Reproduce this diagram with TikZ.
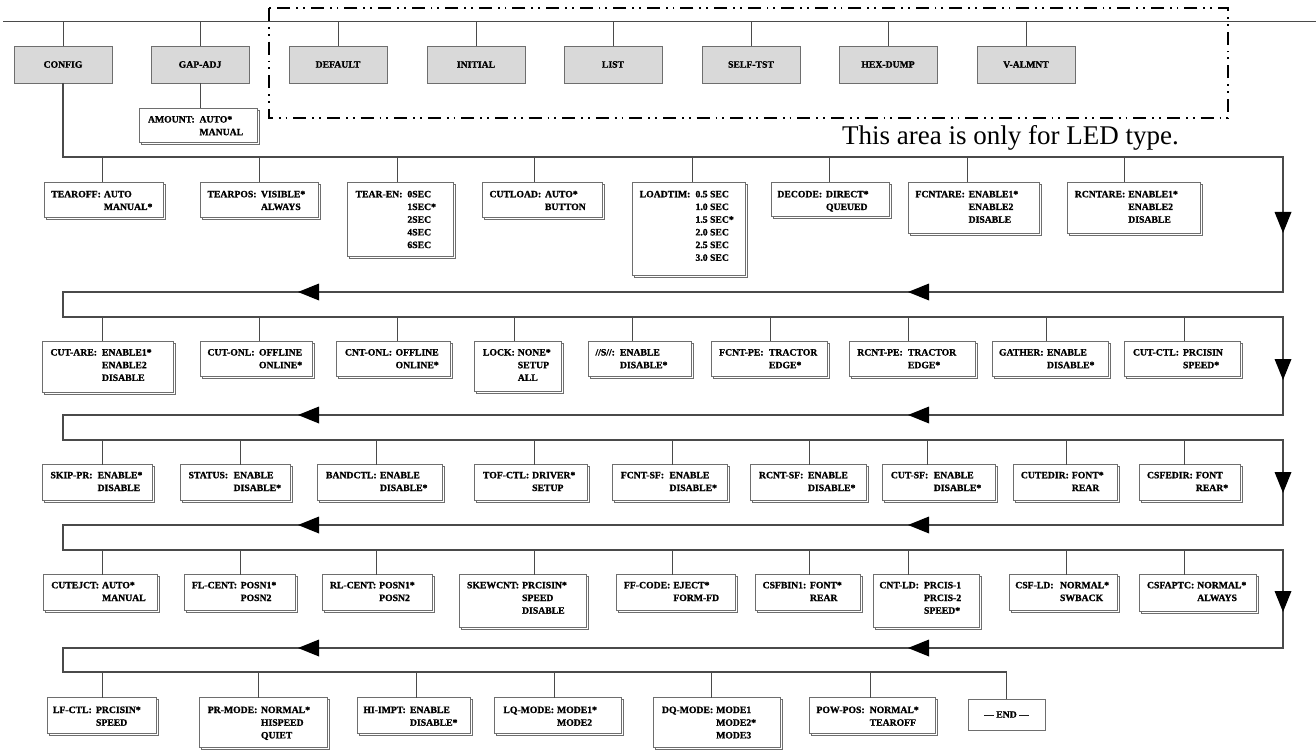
\documentclass[tikz,border=0pt]{standalone}
\usepackage{fontspec}
\setmainfont{Liberation Serif}[BoldFeatures={FakeBold=1.2}]
\usetikzlibrary{calc}
\definecolor{busgray}{HTML}{4A4A4A}
\definecolor{boxgray}{HTML}{6E6E6E}
\definecolor{topfill}{HTML}{D9D9D9}
\newcommand\rowtop{0}
\newcommand\rowbase{0}
\newcommand\rowbus{0}
\newcommand\setrow[3]{\renewcommand\rowtop{#1}\renewcommand\rowbase{#2}\renewcommand\rowbus{#3}}
% name, L, R, B, label x, value x, label, values
\newcommand\menuitem[8]{%
  \draw[shadowbox] ({#2+2},{\rowtop+2}) rectangle ({#3+2},{#4+2});
  \node[itembox, anchor=north west, minimum width={#3-#2}, minimum height={#4-\rowtop}] (#1) at (#2,\rowtop) {};
  \node[itemtext, anchor=base west] (#1-l) at (#5,\rowbase) {#7};
  \path let \p1=(#1-l.east) in node[itemtext, anchor=base west] (#1-v) at ({max(\x1+3,#6)},\rowbase) {\begin{tabular}[t]{@{}l@{}}#8\end{tabular}};
}
\newcommand\conn[2]{\coordinate (#1-b) at (#2,\rowbus); \draw[conn] (#1-b) -- (#1-b |- #1.north);}
\newcommand\larrow[2]{\fill[black] (#1,#2) -- ({#1+21},{#2-8.5}) -- ({#1+21},{#2+8.5}) -- cycle;}
\newcommand\darrow[2]{\fill[black] (#1,#2) -- ({#1-8.5},{#2-21}) -- ({#1+8.5},{#2-21}) -- cycle;}
\tikzset{
  shadowbox/.style={draw=boxgray, fill=white, line width=0.7pt},
  itembox/.style={draw=boxgray, fill=white, line width=0.7pt, inner sep=0pt, outer sep=0pt},
  itemtext/.style={inner sep=0pt, outer sep=0pt, font=\fontsize{9.7}{12.7}\selectfont\bfseries},
  topbox/.style={draw=boxgray, fill=topfill, line width=0.8pt, minimum width=98, minimum height=37, inner sep=0pt, outer sep=0pt, font=\fontsize{9.7}{12}\selectfont\bfseries},
  bus/.style={draw=busgray, line width=1.3pt, line join=miter},
  conn/.style={draw=busgray, line width=0.9pt},
  ledbox/.style={draw=black, line width=1.5pt, dash pattern=on 13pt off 6pt on 1.8pt off 5pt on 1.8pt off 6pt}
}
\begin{document}
\begin{tikzpicture}[x=1pt,y=-1pt]
\useasboundingbox (0,0) rectangle (1316,751);
\fill[white] (0,0) rectangle (1316,751);

% top line and top menu
\coordinate (topL) at (3,21.5);
\coordinate (topR) at (1316,21.5);
\draw[bus, line width=1.5pt] (topL) -- (topR);
\draw[ledbox] (269,8) rectangle (1228,118);

\node[topbox] (config) at (63,64.5) {CONFIG};
\node[topbox] (gapadj) at (200,64.5) {GAP-ADJ};
\node[topbox] (default) at (338,64.5) {DEFAULT};
\node[topbox] (initial) at (476,64.5) {INITIAL};
\node[topbox] (list) at (613,64.5) {LIST};
\node[topbox] (selftst) at (751,64.5) {SELF-TST};
\node[topbox] (hexdump) at (888,64.5) {HEX-DUMP};
\node[topbox] (valmnt) at (1026,64.5) {V-ALMNT};
\foreach \n in {config,gapadj,default,initial,list,selftst,hexdump,valmnt}
  \draw[conn] (\n.north |- topL) -- (\n.north);

\node[anchor=base west, inner sep=0pt, font=\fontsize{27}{30}\selectfont] (ledtext) at (842,145) {This area is only for LED type.};

% END box (single outline)
\node[itembox, anchor=north west, minimum width=77, minimum height=31, font=\fontsize{9.7}{12.7}\selectfont\bfseries] (endbox) at (968,699) {--- END ---};

% serpentine bus
\coordinate (b1L) at (63,157);  \coordinate (b1R) at (1283,157);
\coordinate (r1R) at (1283,292); \coordinate (r1L) at (63,292);
\coordinate (b2L) at (63,317);  \coordinate (b2R) at (1283,317);
\coordinate (r2R) at (1283,415); \coordinate (r2L) at (63,415);
\coordinate (b3L) at (63,440);  \coordinate (b3R) at (1283,440);
\coordinate (r3R) at (1283,525); \coordinate (r3L) at (63,525);
\coordinate (b4L) at (63,550);  \coordinate (b4R) at (1283,550);
\coordinate (r4R) at (1283,648); \coordinate (r4L) at (63,648);
\coordinate (b5L) at (63,672);  \coordinate (b5R) at (endbox.north |- b5L);
\draw[bus] (config.south) -- (b1L) -- (b1R) -- (r1R) -- (r1L) -- (b2L) -- (b2R) -- (r2R) -- (r2L) -- (b3L) -- (b3R) -- (r3R) -- (r3L) -- (b4L) -- (b4R) -- (r4R) -- (r4L) -- (b5L) -- (b5R);
\draw[conn] (b5R) -- (endbox.north);

\foreach \y in {292,415,525,648} {\larrow{298}{\y} \larrow{908}{\y}}
\darrow{1283}{233}
\darrow{1283}{380}
\darrow{1283}{493}
\darrow{1283}{612}

% AMOUNT
\setrow{108}{122.5}{83}
\menuitem{amount}{139}{257.6}{142}{148}{199.5}{AMOUNT:}{AUTO*\\MANUAL}
\draw[conn] (gapadj.south) -- (gapadj.south |- amount.north);

% Row 1
\setrow{182}{197.3}{157}
\menuitem{tearoff}{44}{163.5}{217}{51.3}{103}{TEAROFF:}{AUTO\\MANUAL*}
\menuitem{tearpos}{200}{318.5}{217}{207.5}{261}{TEARPOS:}{VISIBLE*\\ALWAYS}
\menuitem{tearen}{347.6}{453}{256.7}{355.6}{407.4}{TEAR-EN:}{0SEC\\1SEC*\\2SEC\\4SEC\\6SEC}
\menuitem{cutload}{482.3}{602.7}{217}{489.5}{545}{CUTLOAD:}{AUTO*\\BUTTON}
\menuitem{loadtim}{632.2}{745.6}{275.7}{639.7}{695.5}{LOADTIM:}{0.5 SEC\\1.0 SEC\\1.5 SEC*\\2.0 SEC\\2.5 SEC\\3.0 SEC}
\menuitem{decode}{771}{889}{216.5}{777.4}{826}{DECODE:}{DIRECT*\\QUEUED}
\menuitem{fcntare}{908}{1039.6}{233}{915.5}{968.6}{FCNTARE:}{ENABLE1*\\ENABLE2\\DISABLE}
\menuitem{rcntare}{1067.6}{1200}{233}{1074.8}{1124.5}{RCNTARE:}{ENABLE1*\\ENABLE2\\DISABLE}
\conn{tearoff}{102}\conn{tearpos}{259}\conn{tearen}{397}\conn{cutload}{534.5}
\conn{loadtim}{692}\conn{decode}{829}\conn{fcntare}{967}\conn{rcntare}{1124.5}

% Row 2
\setrow{341}{355.5}{317}
\menuitem{cutare}{42}{173.8}{392.7}{50.5}{102}{CUT-ARE:}{ENABLE1*\\ENABLE2\\DISABLE}
\menuitem{cutonl}{200}{312.3}{376.7}{207.5}{259}{CUT-ONL:}{OFFLINE\\ONLINE*}
\menuitem{cntonl}{336.7}{450.3}{376.7}{345}{395.6}{CNT-ONL:}{OFFLINE\\ONLINE*}
\menuitem{lock}{474.7}{561}{391.7}{483}{516}{LOCK:}{NONE*\\SETUP\\ALL}
\menuitem{sss}{588.4}{691.2}{376.7}{595.5}{620}{//S//:}{ENABLE\\DISABLE*}
\menuitem{fcntpe}{711.6}{827.6}{376.7}{719.2}{769}{FCNT-PE:}{TRACTOR\\EDGE*}
\menuitem{rcntpe}{849.7}{975}{376.7}{857.3}{907.9}{RCNT-PE:}{TRACTOR\\EDGE*}
\menuitem{gather}{992}{1108}{376.7}{999}{1047}{GATHER:}{ENABLE\\DISABLE*}
\menuitem{cutctl}{1124.5}{1240.5}{376.7}{1133}{1183}{CUT-CTL:}{PRCISIN\\SPEED*}
\conn{cutare}{102}\conn{cutonl}{259}\conn{cntonl}{397}\conn{lock}{514.3}\conn{sss}{632.2}
\conn{fcntpe}{770.2}\conn{rcntpe}{908.3}\conn{gather}{1046}\conn{cutctl}{1184}

% Row 3
\setrow{464.5}{478.3}{440}
\menuitem{skippr}{42}{152.4}{500}{50.5}{97.6}{SKIP-PR:}{ENABLE*\\DISABLE}
\menuitem{status}{180}{290.4}{500}{188.6}{233.6}{STATUS:}{ENABLE\\DISABLE*}
\menuitem{bandctl}{317.8}{442}{500}{326}{380}{BANDCTL:}{ENABLE\\DISABLE*}
\menuitem{tofctl}{474.7}{587}{500}{483}{532}{TOF-CTL:}{DRIVER*\\SETUP}
\menuitem{fcntsf}{612.4}{727.7}{500}{620.8}{669.5}{FCNT-SF:}{ENABLE\\DISABLE*}
\menuitem{rcntsf}{750.7}{866.7}{500}{759}{808}{RCNT-SF:}{ENABLE\\DISABLE*}
\menuitem{cutsf}{882.8}{995}{500}{890.9}{933.8}{CUT-SF:}{ENABLE\\DISABLE*}
\menuitem{cutedir}{1013.6}{1117.3}{500}{1020.9}{1067}{CUTEDIR:}{FONT*\\REAR}
\menuitem{csfedir}{1139.4}{1240.5}{500}{1147}{1186}{CSFEDIR:}{FONT\\REAR*}
\conn{skippr}{102}\conn{status}{240}\conn{bandctl}{376.7}\conn{tofctl}{534.5}\conn{fcntsf}{672.5}
\conn{rcntsf}{809.7}\conn{cutsf}{927.4}\conn{cutedir}{1066.3}\conn{csfedir}{1184}

% Row 4
\setrow{574.5}{588.3}{550}
\menuitem{cutejct}{43.8}{157.8}{610}{51.3}{101}{CUTEJCT:}{AUTO*\\MANUAL}
\menuitem{flcent}{184.3}{295.5}{610}{192}{240.7}{FL-CENT:}{POSN1*\\POSN2}
\menuitem{rlcent}{322}{432.7}{610}{330}{378}{RL-CENT:}{POSN1*\\POSN2}
\menuitem{skewcnt}{459.6}{585.9}{627.3}{467}{522}{SKEWCNT:}{PRCISIN*\\SPEED\\DISABLE}
\menuitem{ffcode}{616.6}{735}{610}{624}{662}{FF-CODE:}{EJECT*\\FORM-FD}
\menuitem{csfbin1}{755}{860.3}{610}{762.6}{810}{CSFBIN1:}{FONT*\\REAR}
\menuitem{cntld}{873}{979}{627.3}{879.4}{924}{CNT-LD:}{PRCIS-1\\PRCIS-2\\SPEED*}
\menuitem{csfld}{1009}{1117.3}{610}{1015.3}{1060}{CSF-LD:}{NORMAL*\\SWBACK}
\menuitem{csfaptc}{1139.4}{1256.6}{611}{1147}{1197}{CSFAPTC:}{NORMAL*\\ALWAYS}
\conn{cutejct}{102}\conn{flcent}{240}\conn{rlcent}{376.7}\conn{skewcnt}{534.5}\conn{ffcode}{672.5}
\conn{csfbin1}{809.7}\conn{cntld}{908.3}\conn{csfld}{1066.3}\conn{csfaptc}{1184}

% Row 5
\setrow{697.5}{713}{672}
\menuitem{lfctl}{47}{156}{733}{53}{96}{LF-CTL:}{PRCISIN*\\SPEED}
\menuitem{prmode}{199.8}{327.2}{747.5}{207.8}{261}{PR-MODE:}{NORMAL*\\HISPEED\\QUIET}
\menuitem{hiimpt}{357}{470.7}{733}{363.4}{410}{HI-IMPT:}{ENABLE\\DISABLE*}
\menuitem{lqmode}{494.8}{621}{733}{503.4}{554}{LQ-MODE:}{MODE1*\\MODE2}
\menuitem{dqmode}{653.3}{780.7}{747.5}{662}{711.8}{DQ-MODE:}{MODE1\\MODE2*\\MODE3}
\menuitem{powpos}{809.4}{935}{733}{816.5}{869.7}{POW-POS:}{NORMAL*\\TEAROFF}
\conn{lfctl}{102}\conn{prmode}{258}\conn{hiimpt}{416}\conn{lqmode}{554}\conn{dqmode}{711.8}
\conn{powpos}{870}
\end{tikzpicture}
\end{document}
